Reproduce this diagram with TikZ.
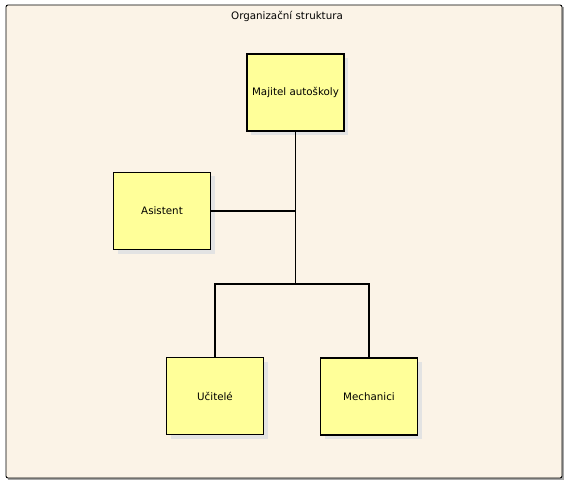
\documentclass[tikz,border=0pt]{standalone}
\usepackage{fontspec}
\setmainfont{DejaVu Sans}
\usetikzlibrary{positioning,shadows}

\definecolor{paper}{HTML}{FBF3E7}
\definecolor{boxyellow}{HTML}{FFFF99}
\definecolor{shadowgray}{HTML}{E3E3E3}

\begin{document}
\begin{tikzpicture}[x=1pt,y=-1pt,font=\fontsize{10.3}{12}\selectfont,
    role/.style={draw=black, line width=1.2pt, fill=boxyellow,
        minimum width=97pt, minimum height=77pt, inner sep=0pt,
        drop shadow={shadow xshift=4pt, shadow yshift=-4pt, fill=shadowgray, opacity=1}},
    link/.style={draw=black, line width=1.1pt}]
    \useasboundingbox (0,0) rectangle (568,484);

    % Frame of the diagram
    \fill[gray!70] (8,7) rectangle (564,480);
    \draw[fill=paper, line width=0.9pt, rounded corners=2pt] (6,5) rectangle (562,478);
    \node (title) at (287,16) {Organizační struktura};

    % Roles
    \node[role] (boss) at (295.5,92.5) {Majitel autoškoly};
    \node[role] (asist) at (162,211) {Asistent};
    \node[role] (ucit) at (215,396) {Učitelé};
    \node[role] (mech) at (369,396.5) {Mechanici};

    % Lines between roles
    \coordinate (split) at (295.5,284);
    \draw[link] (boss.south) -- (split);
    \draw[link] (asist.east) -- (boss.south |- asist.east);
    \draw[link] (ucit.north) |- (split) -| (mech.north);
\end{tikzpicture}
\end{document}
